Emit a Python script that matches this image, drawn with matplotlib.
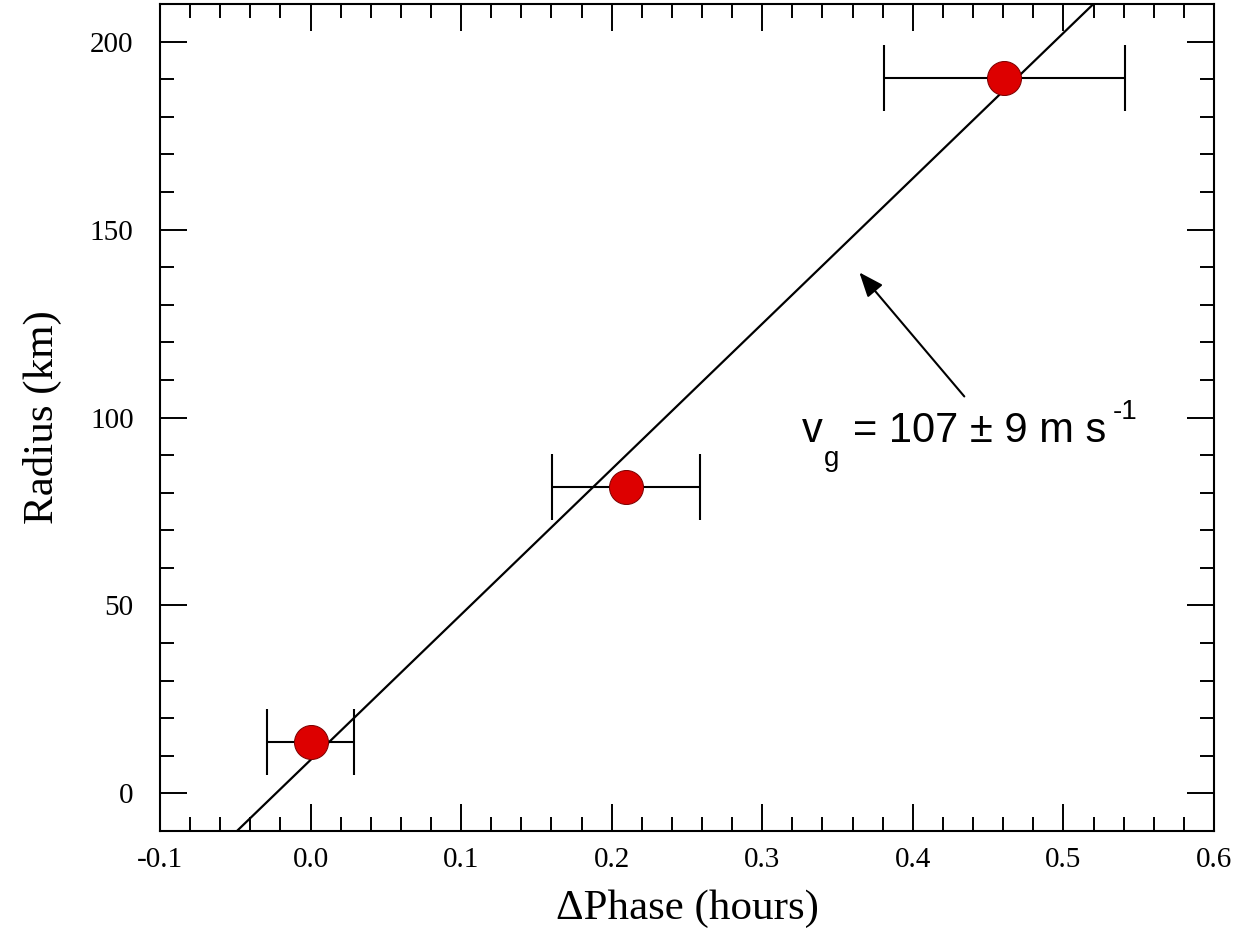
import matplotlib
matplotlib.use("Agg")
import matplotlib.pyplot as plt
import numpy as np
from matplotlib.ticker import MultipleLocator, FormatStrFormatter

# Data
phase = [0.0, 0.2096, 0.4608]
phase_err = [0.029, 0.049, 0.080]
radius = [13.6, 81.4, 190.4]
fit_slope = 386.8      # km per hour (107 m/s)
fit_intercept = 8.9    # km
x_limits = [-0.1, 0.6]
y_limits = [-10, 210]
xlabel = "ΔPhase (hours)"
ylabel = "Radius (km)"

serif = "Liberation Serif"
sans = "Liberation Sans"
plt.rcParams["font.family"] = [serif, "DejaVu Serif"]

fig = plt.figure(figsize=(12.47, 9.40), dpi=100)
ax = fig.add_axes([0.1283, 0.1160, 0.9735 - 0.1283, 0.9957 - 0.1160])

xs = np.array(x_limits)
ax.plot(xs, fit_intercept + fit_slope * xs, color="black", lw=1.6, zorder=2)

ax.errorbar(phase, radius, xerr=phase_err, fmt="none", ecolor="black",
            elinewidth=1.5, capsize=24, capthick=1.5, zorder=3)
ax.plot(phase, radius, "o", ms=24.5, mfc="#dd0000", mec="#7a0000", mew=0.7,
        zorder=4)

ax.set_xlim(x_limits)
ax.set_ylim(y_limits)
ax.xaxis.set_major_locator(MultipleLocator(0.1))
ax.xaxis.set_minor_locator(MultipleLocator(0.02))
ax.yaxis.set_major_locator(MultipleLocator(50))
ax.yaxis.set_minor_locator(MultipleLocator(10))
ax.xaxis.set_major_formatter(FormatStrFormatter("%.1f"))

ax.tick_params(which="both", direction="in", top=True, right=True, width=1.4)
ax.tick_params(which="major", length=19.5, labelsize=21)
ax.tick_params(which="minor", length=10)
ax.tick_params(axis="x", which="major", pad=11.5)
ax.tick_params(axis="y", which="major", pad=19)
for s in ax.spines.values():
    s.set_linewidth(1.5)

ax.set_xlabel(xlabel, fontfamily=serif, fontsize=31, labelpad=12)
ax.set_ylabel(ylabel, fontfamily=serif, fontsize=31, labelpad=20)

# Arrow annotation
ax.annotate("", xy=(0.3645, 138.6), xytext=(0.4342, 105.6),
            arrowprops=dict(arrowstyle="-|>,head_length=0.75,head_width=0.3",
                            color="black", lw=1.5, shrinkA=0, shrinkB=0,
                            mutation_scale=20))

ax.text(0.3266, 93.4, "v", fontfamily=sans, fontsize=30, ha="left", va="baseline")
ax.text(0.3406, 87.2, "g", fontfamily=sans, fontsize=20, ha="left", va="baseline")
ax.text(0.3600, 93.4, "= 107 ± 9 m s", fontfamily=sans, fontsize=30,
        ha="left", va="baseline")
ax.text(0.5326, 99.5, "-1", fontfamily=sans, fontsize=20, ha="left", va="baseline")

fig.savefig("out.png", dpi=100)
